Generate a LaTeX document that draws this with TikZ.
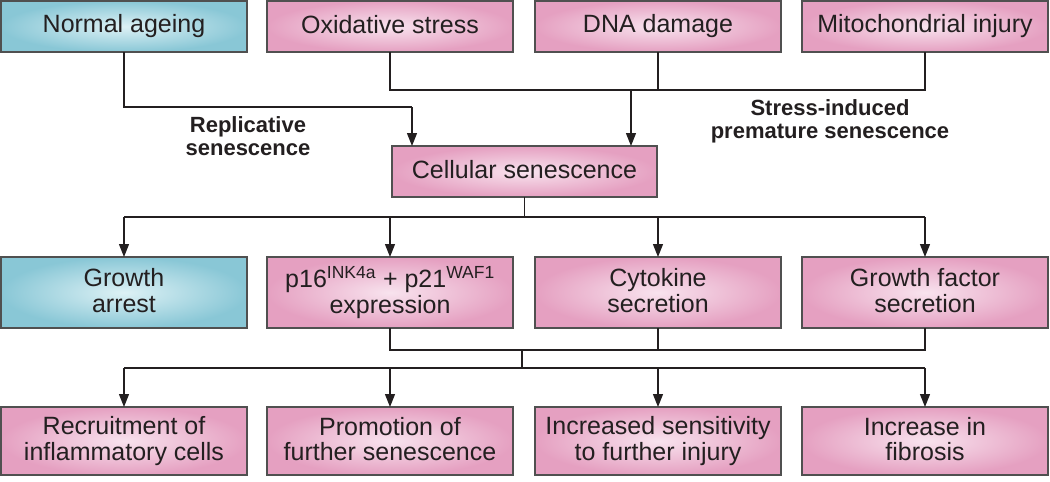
\documentclass[tikz,border=0pt]{standalone}
\usepackage{fontspec}
\setmainfont{Liberation Sans}
\usetikzlibrary{arrows.meta}
\definecolor{pinkedge}{HTML}{E5A0C1}
\definecolor{pinkcenter}{HTML}{F8E3EE}
\definecolor{blueedge}{HTML}{89C7D6}
\definecolor{bluecenter}{HTML}{DDF1F5}
\definecolor{boxline}{HTML}{505050}
\definecolor{ink}{HTML}{231F20}
\newcommand\mystr{\rule[-4pt]{0pt}{22pt}}
\tikzset{
  box/.style={draw=boxline, line width=1.2pt, inner sep=0pt, outer sep=0pt,
    align=center, text=ink, font=\fontsize{25}{25.5}\selectfont,
    shading=radial},
  pinkbox/.style={box, inner color=pinkcenter, outer color=pinkedge},
  bluebox/.style={box, inner color=bluecenter, outer color=blueedge},
  link/.style={draw=ink, line width=1.3pt},
  arr/.style={link, -{Triangle[length=13pt,width=10pt]}},
  lbl/.style={font=\bfseries\fontsize{22}{23}\selectfont, text=ink, align=center, inner sep=0pt}
}
\begin{document}
\begin{tikzpicture}[x=1pt,y=-1pt]
\useasboundingbox (0,0) rectangle (1050,482);
% top row
\node[bluebox, minimum width=246, minimum height=51] (na) at (124,26.5) {\mystr Normal ageing};
\node[pinkbox, minimum width=246, minimum height=51] (os) at (390,26.5) {\mystr Oxidative stress};
\node[pinkbox, minimum width=246, minimum height=51] (dna) at (658,26.5) {\mystr DNA damage};
\node[pinkbox, minimum width=246, minimum height=51] (mi) at (925,26.5) {\mystr Mitochondrial injury};
% centre
\node[pinkbox, minimum width=265, minimum height=51] (cs) at (524.5,171.5) {\mystr Cellular senescence};
% row 2
\node[bluebox, minimum width=246, minimum height=71] (ga) at (124,292.5) {\mystr Growth\\\mystr arrest};
\node[pinkbox, minimum width=246, minimum height=71] (p16) at (390,292.5) {\mystr p16\textsuperscript{INK4a} + p21\textsuperscript{WAF1}\\\mystr expression};
\node[pinkbox, minimum width=246, minimum height=71] (cy) at (658,292.5) {\mystr Cytokine\\\mystr secretion};
\node[pinkbox, minimum width=246, minimum height=71] (gf) at (925,292.5) {\mystr Growth factor\\\mystr secretion};
% row 3
\node[pinkbox, minimum width=246, minimum height=68] (ri) at (124,441) {\mystr Recruitment of\\\mystr inflammatory cells};
\node[pinkbox, minimum width=246, minimum height=68] (pf) at (390,441) {\mystr Promotion of\\\mystr further senescence};
\node[pinkbox, minimum width=246, minimum height=68] (is) at (658,441) {\mystr Increased sensitivity\\\mystr to further injury};
\node[pinkbox, minimum width=246, minimum height=68] (fi) at (925,441) {\mystr Increase in\\\mystr fibrosis};
% labels
\node[lbl] (rep) at (248,136) {Replicative\\senescence};
\node[lbl] (sip) at (830,121) {Stress-induced\\premature senescence};
% junction coordinates
\coordinate (j1) at (412,107);
\coordinate (j2) at (631,90);
\coordinate (j3) at (524.5,217);
\coordinate (j4) at (522,350);
\coordinate (j5) at (522,368);
% replicative path
\draw[link] (na.south) |- (j1);
\draw[arr] (j1) -- (j1 |- cs.north);
% stress path
\draw[link] (os.south) |- (mi.south |- j2) -- (mi.south);
\draw[link] (dna.south) -- (dna.south |- j2);
\draw[arr] (j2) -- (j2 |- cs.north);
% senescence to row 2
\draw[link] (cs.south) -- (j3);
\draw[link] (ga.north |- j3) -- (gf.north |- j3);
\foreach \n in {ga,p16,cy,gf} \draw[arr] (\n.north |- j3) -- (\n.north);
% row 2 to row 3
\draw[link] (p16.south) |- (gf.south |- j4) -- (gf.south);
\draw[link] (cy.south) -- (cy.south |- j4);
\draw[link] (j4) -- (j5);
\draw[link] (ri.north |- j5) -- (fi.north |- j5);
\foreach \n in {ri,pf,is,fi} \draw[arr] (\n.north |- j5) -- (\n.north);
\end{tikzpicture}
\end{document}
